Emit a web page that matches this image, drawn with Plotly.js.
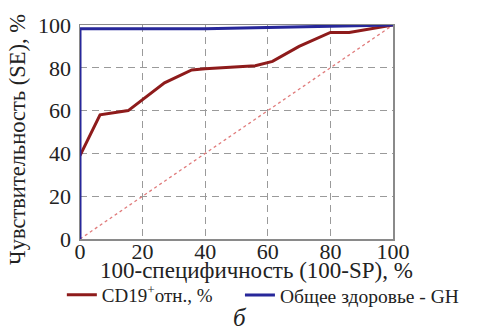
<!DOCTYPE html>
<html>
<head>
<meta charset="utf-8">
<script src="https://cdn.plot.ly/plotly-3.0.1.min.js"></script>
<style>
  html, body { margin: 0; padding: 0; background: #fff; }
  #chart { width: 478px; height: 332px; }
</style>
</head>
<body>
<div id="chart"></div>
<script>
// ROC curve points: x = 100 - specificity, y = sensitivity (%)
const cd19X = [0, 6.4, 15.4, 20, 27, 35.7, 40, 56, 61.5, 70, 80, 86, 100];
const cd19Y = [39, 58, 60, 65, 73, 79, 79.5, 81, 83, 90, 96.5, 96.5, 100];

const ghX = [0, 0, 40, 100];
const ghY = [0, 98.3, 98.3, 100];

// reference diagonal (random classifier)
const diagX = [0, 100];
const diagY = [0, 100];

const tickVals = [0, 20, 40, 60, 80, 100];
const tickText = ['0', '20', '40', '60', '80', '100'];

const serif = 'Liberation Serif, serif';

const traces = [
  {
    x: diagX, y: diagY, mode: 'lines', showlegend: false, hoverinfo: 'skip',
    line: { color: '#e07b7b', width: 1.3, dash: 'dot' }
  },
  {
    x: cd19X, y: cd19Y, mode: 'lines', name: 'CD19<sup>+</sup>отн., %',
    legend: 'legend',
    line: { color: '#8e1b1b', width: 3 }
  },
  {
    x: ghX, y: ghY, mode: 'lines', name: 'Общее здоровье - GH',
    legend: 'legend2',
    line: { color: '#27279a', width: 3 }, cliponaxis: false
  }
];

const axisBase = {
  range: [0, 100],
  tickvals: tickVals,
  ticktext: tickText,
  showgrid: true,
  gridcolor: '#9a9a9a',
  griddash: '7px,5px',
  gridwidth: 1.3,
  zeroline: false,
  showline: true,
  linecolor: '#8a8a8a',
  linewidth: 1.5,
  mirror: true,
  ticks: '',
  ticklen: 0,
  tickfont: { family: serif, size: 22, color: '#222' }
};

const legendBase = {
  orientation: 'h',
  xanchor: 'left',
  y: -0.172, yanchor: 'top',
  itemwidth: 30,
  bgcolor: 'rgba(0,0,0,0)'
};

const layout = {
  width: 478, height: 332,
  margin: { l: 80, r: 85, t: 25, b: 93 },
  paper_bgcolor: '#fff', plot_bgcolor: '#fff',
  font: { family: serif, color: '#222' },
  xaxis: Object.assign({}, axisBase, { ticklabelstandoff: -8 }),
  yaxis: Object.assign({}, axisBase, { ticklabelstandoff: 3 }),
  showlegend: true,
  legend: Object.assign({}, legendBase, {
    x: -0.058,
    font: { family: serif, size: 19, color: '#222' }
  }),
  legend2: Object.assign({}, legendBase, {
    x: 0.511,
    font: { family: serif, size: 19.5, color: '#222' }
  }),
  annotations: [
    {
      text: 'Чувствительность (SE), %', xref: 'paper', yref: 'paper',
      x: -0.198, y: 0.463, textangle: -90, showarrow: false,
      xanchor: 'center', yanchor: 'middle',
      font: { family: serif, size: 22.5, color: '#222' }
    },
    {
      text: '100-специфичность (100-SP), %', xref: 'paper', yref: 'paper',
      x: 0.565, y: -0.148, showarrow: false,
      xanchor: 'center', yanchor: 'middle',
      font: { family: serif, size: 23, color: '#222' }
    },
    {
      text: '<i>б</i>', xref: 'paper', yref: 'paper',
      x: 0.51, y: -0.365, showarrow: false,
      xanchor: 'center', yanchor: 'middle',
      font: { family: serif, size: 25, color: '#222' }
    }
  ]
};

Plotly.newPlot('chart', traces, layout, { displayModeBar: false, staticPlot: true });
</script>
</body>
</html>
